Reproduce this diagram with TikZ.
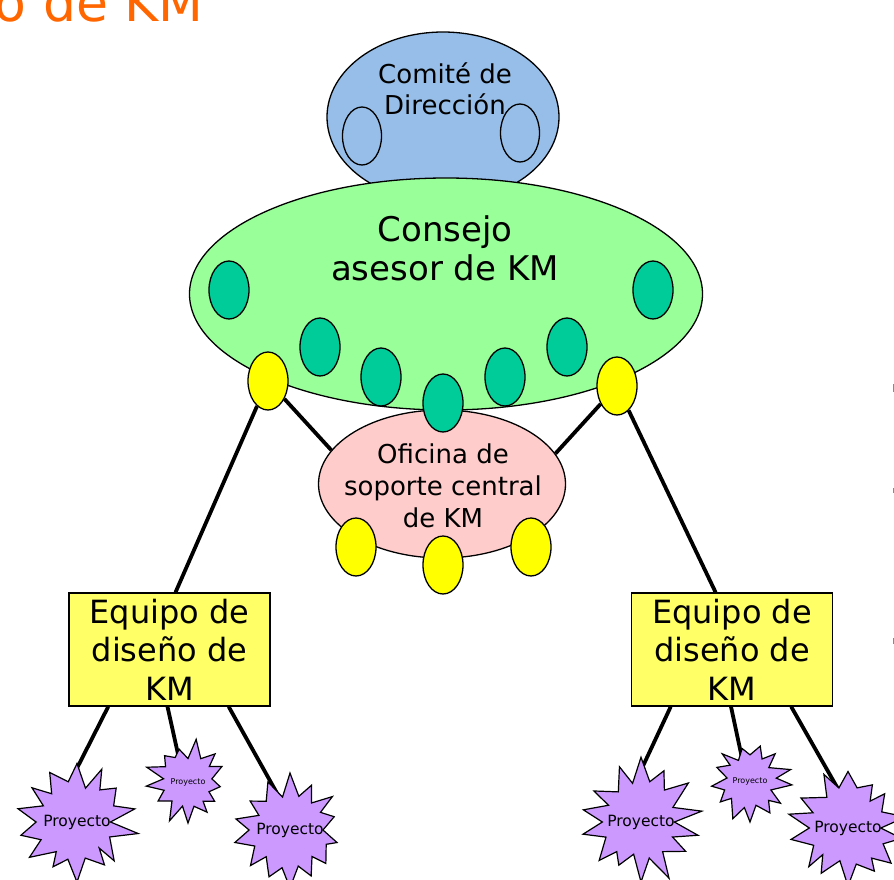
\documentclass[tikz,border=0pt]{standalone}
\usepackage{fontspec}
\setmainfont{DejaVu Sans}
\usetikzlibrary{shapes.geometric,calc}
\pgfdeclarelayer{fondo}
\pgfsetlayers{fondo,main}
\definecolor{azul}{RGB}{150,190,232}
\definecolor{verde}{RGB}{153,255,153}
\definecolor{verdeosc}{RGB}{0,204,153}
\definecolor{rosa}{RGB}{255,204,204}
\definecolor{amarillo}{RGB}{255,255,0}
\definecolor{caja}{RGB}{255,255,102}
\definecolor{lila}{RGB}{204,153,255}
\definecolor{naranja}{RGB}{255,102,0}
% estrella: centro, radio ext, radio int, puntas, semilla
\newcommand\estrella[5]{%
	\pgfmathsetseed{#5}
	\pgfmathtruncatemacro\nmenos{#4-1}
	\filldraw[fill=lila, line width=1.2pt, miter limit=25] ($(#1)+(90:#2)$)
	\foreach \k in {1,...,\nmenos}{ -- ($(#1)+({90+(\k-0.5)*360/#4}:{#3*(0.88+0.24*rnd)})$) -- ($(#1)+({90+\k*360/#4}:{#2*(0.78+0.3*rnd)})$)}
	-- ($(#1)+({90-180/#4}:#3)$) -- cycle;
}

\begin{document}
\begin{tikzpicture}[x=1pt, y=-1pt,
	ovalo/.style={ellipse, draw, line width=1.3pt, inner sep=0pt, minimum width=40pt, minimum height=58pt},
	texto/.style={align=center, inner sep=0pt},
	equipo/.style={draw, fill=caja, line width=1.3pt, minimum width=201pt, minimum height=113pt, align=center, inner sep=0pt, font=\fontsize{32}{38.5}\selectfont},
	proy/.style={circle, inner sep=0pt, minimum size=74pt, font=\fontsize{15.5}{18}\selectfont},
	proyc/.style={circle, inner sep=0pt, minimum size=50pt, font=\fontsize{8}{10}\selectfont},
	linea/.style={line width=3.8pt}]
\clip (0,0) rectangle (894,879);

\node[anchor=base east, text=naranja, inner sep=0pt, font=\fontsize{52}{60}\selectfont] (titulo) at (204,21) {o de KM};
\foreach \y/\h in {384/8, 488/5, 638/6}
	\fill[naranja] (892.5,\y) rectangle (894,\y+\h);

% comite de direccion
\node[ellipse, draw, fill=azul, line width=1.3pt, minimum width=232pt, minimum height=170pt] (cd) at (443,117) {};
\node[ovalo, minimum width=39pt] (cdi) at (362,136) {};
\node[ovalo, minimum width=39pt] (cdd) at (520,133) {};
\node[texto, font=\fontsize{26}{31}\selectfont] (cdtexto) at (445,89) {Comité de\\Dirección};

% oficina central
\node[ellipse, draw, fill=rosa, line width=1.3pt, minimum width=247pt, minimum height=148pt] (of) at (442,484) {};
\node[texto, font=\fontsize{26}{32}\selectfont] (oftexto) at (443,486) {Oficina de\\soporte central\\de KM};

% consejo asesor
\node[ellipse, draw, fill=verde, line width=1.3pt, minimum width=513pt, minimum height=232pt] (ca) at (446,294) {};
\node[texto, font=\fontsize{34}{39}\selectfont] (catexto) at (445,248) {Consejo\\asesor de KM};
\foreach \i/\x/\y in {1/229/290, 2/320/347, 3/381/377, 4/443/403, 5/505/377, 6/567/347, 7/653/290}
	\node[ovalo, fill=verdeosc] (m\i) at (\x,\y) {};

\node[ovalo, fill=amarillo] (yl) at (268,381) {};
\node[ovalo, fill=amarillo] (yr) at (617,386) {};
\foreach \i/\x/\y in {1/356/547, 2/443/565, 3/531/547}
	\node[ovalo, fill=amarillo] (a\i) at (\x,\y) {};

% equipos
\node[equipo] (eqL) at (169.5,649.5) {Equipo de\\diseño de\\KM};
\node[equipo] (eqR) at (732,649.5) {Equipo de\\diseño de\\KM};

% proyectos
\estrella{77,822}{60}{37}{14}{3}
\estrella{188,782}{41}{25}{13}{7}
\estrella{290,830}{58}{37}{14}{11}
\estrella{641,822}{60}{37}{14}{5}
\estrella{750,781}{41}{25}{13}{9}
\estrella{848,828}{58}{37}{14}{13}
\node[proy] (p1) at (77,822) {Proyecto};
\node[proyc] (p2) at (188,782) {Proyecto};
\node[proy] (p3) at (290,830) {Proyecto};
\node[proy] (p4) at (641,822) {Proyecto};
\node[proyc] (p5) at (750,781) {Proyecto};
\node[proy] (p6) at (848,828) {Proyecto};

\begin{pgfonlayer}{fondo}
\draw[linea] (yl) -- (of.163);
\draw[linea] (yr) -- (of.15);
\draw[linea] (yl) -- (eqL.84);
\draw[linea] (yr) -- (eqR.106);
\draw[linea] (eqL.223) -- (p1.104);
\draw[linea] (eqL.268) -- (p2.111);
\draw[linea] (eqL.316) -- (p3.109);
\draw[linea] (eqR.223) -- (p4.101);
\draw[linea] (eqR.269) -- (p5.109);
\draw[linea] (eqR.316) -- (p6.103);
\end{pgfonlayer}
\end{tikzpicture}
\end{document}
